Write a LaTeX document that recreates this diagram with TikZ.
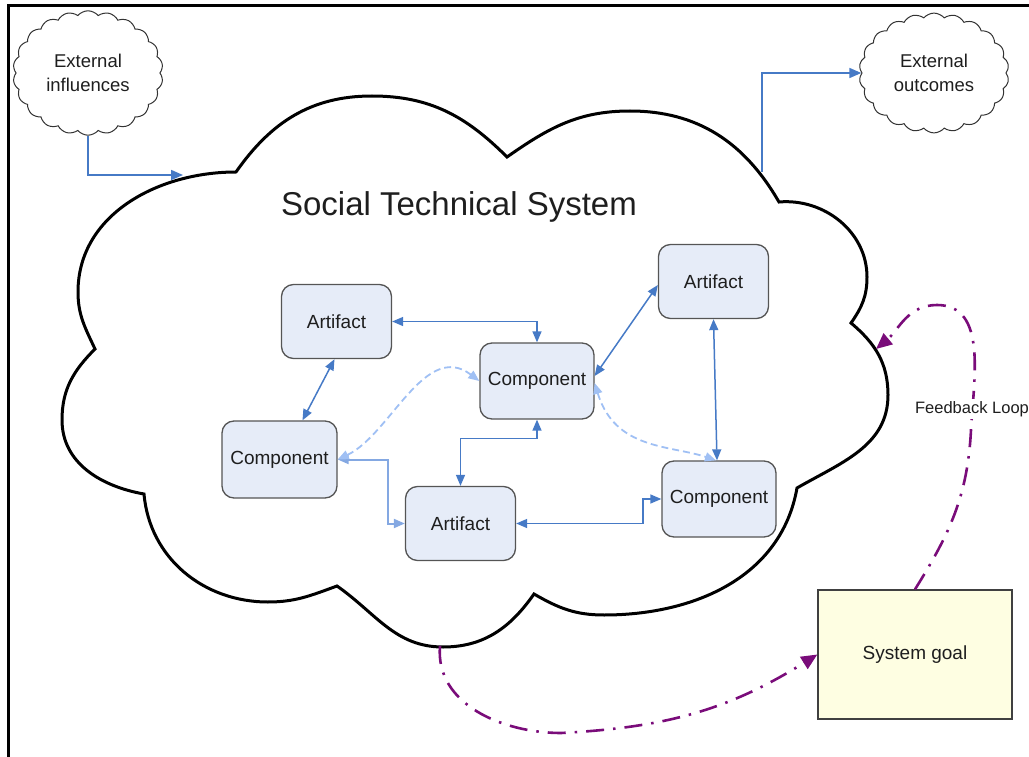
\documentclass[tikz,border=0pt]{standalone}
\usepackage{fontspec}
\setmainfont{Liberation Sans}
\usetikzlibrary{shapes.symbols,arrows.meta,calc}
\definecolor{cblue}{RGB}{70,122,198}
\definecolor{clblue}{RGB}{132,168,226}
\definecolor{cdash}{RGB}{160,192,244}
\definecolor{cpurp}{RGB}{122,12,122}
\definecolor{boxfill}{RGB}{230,236,248}
\definecolor{boxline}{RGB}{85,85,85}
\definecolor{goalfill}{RGB}{254,254,226}
\definecolor{txt}{RGB}{30,30,30}
\begin{document}
\begin{tikzpicture}[x=1pt,y=1pt,
  part/.style={draw=boxline, line width=1.3pt, fill=boxfill, rounded corners=12pt,
    minimum width=110pt, minimum height=74pt, text=txt, inner sep=0pt,
    font=\fontsize{19}{23}\selectfont},
  smallcloud/.style={cloud, draw=black!80, line width=1pt, cloud puffs=22, cloud puff arc=100,
    minimum width=150pt, minimum height=100pt, inner sep=0pt, align=center, text=txt,
    font=\fontsize{18.5}{24}\selectfont},
  link/.style={draw=cblue, line width=1.5pt, arrows={Triangle[length=11pt,width=9pt]-Triangle[length=11pt,width=9pt]}},
  lightlink/.style={draw=clblue, line width=2pt, arrows={Triangle[length=11pt,width=9pt]-Triangle[length=11pt,width=9pt]}},
  dashlink/.style={draw=cdash, line width=1.8pt, dash pattern=on 7pt off 4pt, arrows={Triangle[length=11pt,width=9pt]-Triangle[length=11pt,width=9pt]}},
  extlink/.style={draw=cblue, line width=1.7pt, arrows={-Triangle[length=12pt,width=10pt]}},
  fbline/.style={draw=cpurp, line width=2.6pt, dash pattern=on 18pt off 9pt on 2.5pt off 9pt, arrows={-Triangle[length=16pt,width=14pt]}}
]
\useasboundingbox (0,0) rectangle (1029,-757);
% frame
\draw[line width=2.6pt] (8.5,-757) -- (8.5,-5.5) -- (1029,-5.5);

% big cloud cusps and extremes
\coordinate (C1) at (236,-172);
\coordinate (P1) at (372,-96);
\coordinate (C2) at (507,-157);
\coordinate (P2) at (630,-111);
\coordinate (C3) at (779,-202);
\coordinate (R1) at (867,-277);
\coordinate (C4) at (851,-323);
\coordinate (R2) at (888,-395);
\coordinate (C5) at (797,-488);
\coordinate (B1) at (604,-615);
\coordinate (C6) at (534,-594);
\coordinate (B2) at (443,-647);
\coordinate (C7) at (337,-586);
\coordinate (B3) at (268,-602);
\coordinate (C8) at (144,-494);
\coordinate (L1) at (62,-420);
\coordinate (C9) at (95,-349);
\coordinate (L2) at (78,-292);
\draw[line width=3pt, line join=miter]
  (C1) to[out=55,in=180] (P1) to[out=0,in=135] (C2)
  to[out=35,in=180] (P2) to[out=0,in=120] (C3)
  to[out=5,in=90] (R1) to[out=-90,in=55] (C4)
  to[out=-40,in=90] (R2) to[out=-90,in=30] (C5)
  to[out=-100,in=0] (B1) to[out=180,in=-30] (C6)
  to[out=-125,in=0] (B2) to[out=180,in=-35] (C7)
  to[out=-160,in=0] (B3) to[out=180,in=-85] (C8)
  to[out=170,in=-90] (L1) to[out=90,in=-135] (C9)
  to[out=115,in=-90] (L2) to[out=90,in=180] (C1) -- cycle;

\node[text=txt, font=\fontsize{33}{38}\selectfont] (title) at (459,-207) {Social Technical System};

% external clouds
\node[smallcloud] (ei) at (88,-73) {External\\influences};
\node[smallcloud] (eo) at (934,-73) {External\\outcomes};
\coordinate (tin) at (183,-175);
\coordinate (tout) at (762,-172);
\draw[extlink] (ei.south) |- (tin);
\draw[extlink] (tout) |- (eo.west);

% parts
\node[part] (a1) at (336.5,-321.5) {Artifact};
\node[part, minimum width=114pt, minimum height=76pt] (c1) at (537,-381) {Component};
\node[part, minimum width=115pt, minimum height=77pt] (c2) at (279.5,-459.5) {Component};
\node[part] (a2) at (460.5,-523.5) {Artifact};
\node[part] (a3) at (713.5,-281.5) {Artifact};
\node[part, minimum width=114pt, minimum height=76pt] (c3) at (719,-499) {Component};

% connectors
\draw[link] (a1.east) -| (c1.north);
\draw[link] ([xshift=-2pt]a1.south) -- ([xshift=23pt]c2.north);
\draw[lightlink] (c2.east) -- ++(50,0) |- (a2.west);
\draw[link] (c1.south) -- ++(0,-19) -| (a2.north);
\draw[link] (a2.east) -- ++(127,0) |- (c3.west);
\draw[link] ([yshift=5pt]c1.east) -- ([yshift=-3.5pt]a3.west);
\draw[link] (a3.south) -- ([xshift=-2pt]c3.north);
\draw[dashlink] (c2.east) .. controls (390,-435) and (425,-340) .. (c1.west);
\draw[dashlink] ([yshift=-2pt]c1.east) .. controls (615,-450) and (670,-445) .. ([xshift=-3pt]c3.north);

% system goal
\node[draw=black!75, line width=1.3pt, fill=goalfill, minimum width=194pt, minimum height=129pt,
  inner sep=0pt, text=txt, font=\fontsize{19}{23}\selectfont] (sg) at (915,-654.5) {System goal};
\coordinate (fbtip) at (876,-349);
\coordinate (cb) at (440,-646);
\draw[fbline] (sg.north) to[out=58,in=-93] (971,-430) to[out=87,in=0] (937,-305) to[out=180,in=40] (fbtip);
\node[fill=white, inner sep=2pt, text=txt, font=\fontsize{16.5}{20}\selectfont] (fb) at (972,-409) {Feedback Loop};
\draw[fbline] (cb) to[out=-95,in=180] (561,-733) to[out=3,in=-148] (sg.west);
\end{tikzpicture}
\end{document}
